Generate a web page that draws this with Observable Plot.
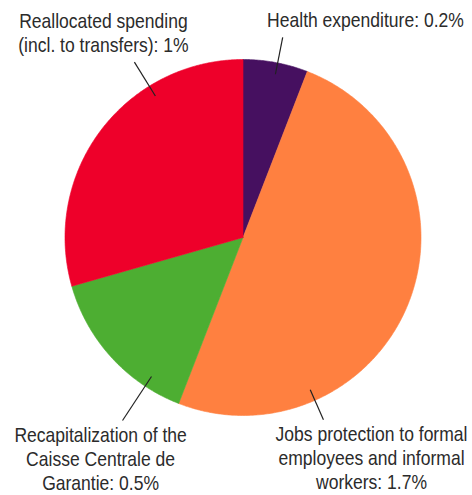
<!DOCTYPE html>
<html>
<head>
<meta charset="utf-8">
<script src="https://cdn.jsdelivr.net/npm/d3@7"></script>
<script src="https://cdn.jsdelivr.net/npm/@observablehq/plot@0.6"></script>
<style>
  html, body { margin: 0; padding: 0; background: #fff; }
</style>
</head>
<body>
<div id="chart"></div>
<script>
// Fiscal response components, % of GDP
const names = [
  "Health expenditure",
  "Jobs protection to formal\nemployees and informal\nworkers",
  "Recapitalization of the\nCaisse Centrale de\nGarantie",
  "Reallocated spending\n(incl. to transfers)"
];
const values = [0.2, 1.7, 0.5, 1];
const colors = ["#461060", "#FF8040", "#4DAE32", "#EE002A"];

// Label placement in pie-radius units (center = 0,0, radius = 1, y up)
const labelX = [0.688, 0.722, -0.80, -0.784];
const labelY = [1.225, -1.236, -1.242, 1.154];
// Leader lines: position inside each slice (fraction of its angle) and outer radius
const leaderFrac = [0.53, 0.75, 0.23, 0.70];
const leaderOuter = [1.146, 1.119, 1.231, 1.159];
const leaderInner = 0.935;

const W = 472, H = 495, R = 178, CX = 242.5, CY = 237;
const NARROW = 0.835; // horizontal squeeze for a condensed look

const arcs = d3.pie().sort(null).value(d => d)(values);

// Slice outlines as closed polygons
const slicePts = [];
arcs.forEach((a, i) => {
  const n = Math.max(2, Math.ceil((a.endAngle - a.startAngle) / (Math.PI / 360)));
  slicePts.push({k: names[i], x: 0, y: 0});
  for (let j = 0; j <= n; j++) {
    const t = a.startAngle + (a.endAngle - a.startAngle) * j / n;
    slicePts.push({k: names[i], x: Math.sin(t), y: Math.cos(t)});
  }
  slicePts.push({k: names[i], x: 0, y: 0});
});

const leaders = arcs.map((a, i) => {
  const t = a.startAngle + (a.endAngle - a.startAngle) * leaderFrac[i];
  return {
    x1: leaderInner * Math.sin(t), y1: leaderInner * Math.cos(t),
    x2: leaderOuter[i] * Math.sin(t), y2: leaderOuter[i] * Math.cos(t)
  };
});

const labels = names.map((n, i) => ({
  text: `${n}: ${values[i]}%`,
  x: labelX[i],
  y: labelY[i]
}));

const chart = Plot.plot({
  width: W,
  height: H,
  margin: 0,
  x: {domain: [-CX / R, (W - CX) / R], axis: null},
  y: {domain: [(CY - H) / R, CY / R], axis: null},
  color: {domain: names, range: colors},
  style: {
    fontFamily: "'Liberation Sans', Arial, sans-serif",
    background: "#fff"
  },
  marks: [
    Plot.line(slicePts, {x: "x", y: "y", z: "k", fill: "k", stroke: "k", strokeWidth: 0.6, curve: "linear"}),
    Plot.link(leaders, {x1: "x1", y1: "y1", x2: "x2", y2: "y2", stroke: "#222", strokeWidth: 1.2}),
    Plot.text(labels, {
      x: "x", y: "y", text: "text",
      fontSize: 21, lineHeight: 1.15, fill: "#2b2b2b",
      textAnchor: "middle", lineAnchor: "middle"
    })
  ]
});

// Condense label glyphs horizontally around their anchor
d3.select(chart).selectAll("text").each(function () {
  const t = this.getAttribute("transform") || "";
  this.setAttribute("transform", `${t} scale(${NARROW},1)`);
});

document.getElementById("chart").appendChild(chart);
</script>
</body>
</html>
